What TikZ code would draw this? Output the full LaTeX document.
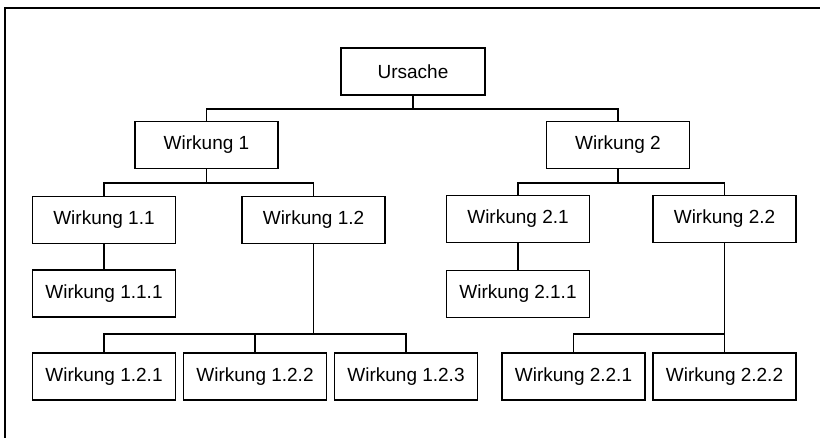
\documentclass[tikz,border=0pt]{standalone}
\usepackage{fontspec}
\setmainfont{Liberation Sans}
\usepackage{tikz}
\usetikzlibrary{positioning}

\begin{document}
\begin{tikzpicture}[x=1pt, y=-1pt, line width=1.8pt,
    box/.style={draw, rectangle, minimum width=143pt, minimum height=47pt, inner sep=0pt,
        font=\fontsize{19}{23}\selectfont}]
    \useasboundingbox (0,0) rectangle (820,438);
    \draw (5,8) rectangle (830,450);

    \node[box, minimum width=144pt] (urs) at (413,71.5) {Ursache};
    \node[box] (w1) at (206.5,145) {Wirkung 1};
    \node[box] (w2) at (618,145) {Wirkung 2};
    \node[box] (w11) at (104,220) {Wirkung 1.1};
    \node[box] (w12) at (313.5,220) {Wirkung 1.2};
    \node[box] (w21) at (518,219) {Wirkung 2.1};
    \node[box] (w22) at (724.5,219) {Wirkung 2.2};
    \node[box] (w111) at (104,293.5) {Wirkung 1.1.1};
    \node[box] (w211) at (518,294) {Wirkung 2.1.1};
    \node[box] (w121) at (104,376.5) {Wirkung 1.2.1};
    \node[box] (w122) at (255,376.5) {Wirkung 1.2.2};
    \node[box] (w123) at (406,376.5) {Wirkung 1.2.3};
    \node[box] (w221) at (573.5,376.5) {Wirkung 2.2.1};
    \node[box] (w222) at (724.5,376.5) {Wirkung 2.2.2};

    \draw (urs.south) -- ++(0,13) -| (w1.north);
    \draw (urs.south) -- ++(0,13) -| (w2.north);
    \draw (w1.south) -- ++(0,14) -| (w11.north);
    \draw (w1.south) -- ++(0,14) -| (w12.north);
    \draw (w2.south) -- ++(0,14) -| (w21.north);
    \draw (w2.south) -- ++(0,14) -| (w22.north);
    \draw (w11) -- (w111);
    \draw (w21) -- (w211);
    \draw (w12.south) -- ++(0,90) -| (w121.north);
    \draw (w12.south) -- ++(0,90) -| (w122.north);
    \draw (w12.south) -- ++(0,90) -| (w123.north);
    \draw (w22.south) -- ++(0,91) -| (w221.north);
    \draw (w22) -- (w222);
\end{tikzpicture}
\end{document}
